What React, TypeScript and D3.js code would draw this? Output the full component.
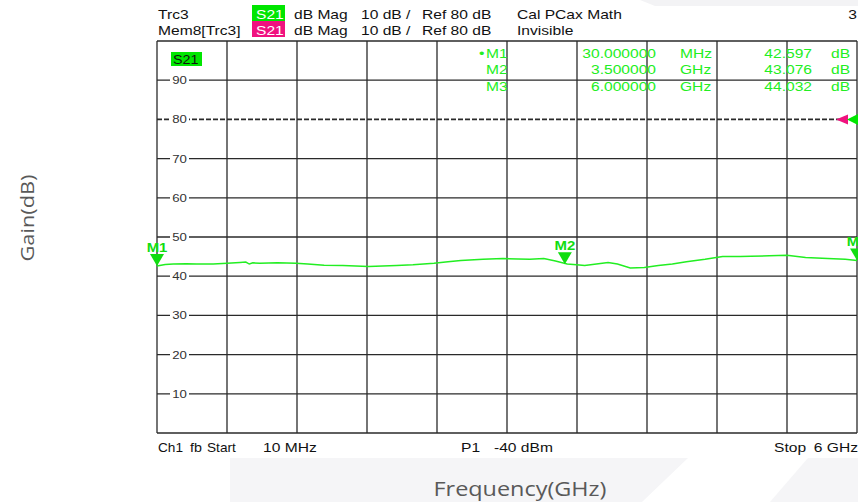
import React from 'react';
import * as d3 from 'd3';

// trace S21 (GHz, dB)
const freqGHz = [0.01, 0.08, 0.15, 0.26, 0.35, 0.49, 0.61, 0.72, 0.77, 0.8, 0.83, 0.89, 1.04, 1.2, 1.3, 1.44, 1.6, 1.82, 2.06, 2.2, 2.38, 2.5, 2.61, 2.8, 2.97, 3.1, 3.2, 3.32, 3.42, 3.52, 3.6, 3.67, 3.77, 3.87, 3.95, 4.06, 4.18, 4.3, 4.42, 4.54, 4.7, 4.85, 5.0, 5.09, 5.25, 5.4, 5.56, 5.75, 5.9, 6.0];
const gainDb = [42.6, 43.0, 43.1, 43.2, 43.1, 43.1, 43.3, 43.5, 43.6, 43.1, 43.4, 43.3, 43.4, 43.3, 43.1, 42.8, 42.7, 42.5, 42.7, 42.9, 43.3, 43.7, 44.0, 44.3, 44.5, 44.4, 44.3, 44.5, 43.9, 43.1, 42.9, 42.7, 43.1, 43.5, 43.1, 42.1, 42.2, 42.7, 43.1, 43.7, 44.3, 45.0, 45.0, 45.1, 45.2, 45.35, 44.8, 44.5, 44.3, 44.03];

const yTicks = [10, 20, 30, 40, 50, 60, 70, 80, 90];
const xDivs = [0, 1, 2, 3, 4, 5, 6, 7, 8, 9, 10];

const markerNames = ['M1', 'M2', 'M3'];
const markerFreq = [0.03, 3.5, 6.0];
const markerFreqText = ['30.000000', '3.500000', '6.000000'];
const markerUnit = ['MHz', 'GHz', 'GHz'];
const markerValue = [42.597, 43.076, 44.032];

const GREEN = '#22ee22';
const FONT = 'Liberation Sans, Arial, sans-serif';

function T(props: any) {
  const { x, y, sx = 1.2, anchor = 'start', size = 13, fill = '#111', weight = 'normal', children } = props;
  return (
    <text
      transform={`translate(${x},${y}) scale(${sx},1)`}
      textAnchor={anchor}
      fontSize={size}
      fontFamily={FONT}
      fill={fill}
      fontWeight={weight}
    >
      {children}
    </text>
  );
}

export default function App() {
  const width = 858, height = 502;
  const left = 157, right = 857, top = 41, bottom = 433;

  const x = d3.scaleLinear().domain([0.01, 6]).range([left, right]);
  const y = d3.scaleLinear().domain([0, 100]).range([bottom, top]);
  const xGrid = d3.scaleLinear().domain([0, 10]).range([left, right]);

  const pts = freqGHz.map((f, i) => [f, gainDb[i]] as [number, number]);
  const line = d3.line<[number, number]>().x(d => x(d[0])).y(d => y(d[1]))(pts) || '';

  const tri = (cx: number, tipY: number) =>
    `M${cx - 7},${tipY - 12}L${cx + 7},${tipY - 12}L${cx},${tipY}Z`;

  return (
    <svg width={width} height={height} style={{ position: 'absolute', left: 0, top: 0, background: '#fff' }}>
      {/* faint background watermark */}
      <polygon points="640,0 858,0 858,6 655,6" fill="#f3f3f5" />
      <polygon points="230,458 688,458 642,502 230,502" fill="#f5f5f7" />
      <polygon points="808,458 858,458 858,502 770,502" fill="#f5f5f7" />

      {/* header */}
      <T x={158} y={19}>Trc3</T>
      <rect x={252} y={5} width={33} height={16} fill="#00e600" />
      <T x={256} y={19} fill="#fff">S21</T>
      <T x={294} y={19}>dB Mag</T>
      <T x={361} y={19}>10 dB /</T>
      <T x={422} y={19}>Ref 80 dB</T>
      <T x={517} y={19}>Cal PCax Math</T>
      <T x={857} y={19} anchor="end">3</T>

      <T x={158} y={35}>Mem8[Trc3]</T>
      <rect x={252} y={21} width={33} height={16} fill="#f0127f" />
      <T x={256} y={35} fill="#fff">S21</T>
      <T x={294} y={35}>dB Mag</T>
      <T x={361} y={35}>10 dB /</T>
      <T x={422} y={35}>Ref 80 dB</T>
      <T x={517} y={35}>Invisible</T>

      {/* grid */}
      <rect x={left} y={top} width={right - left} height={bottom - top} fill="#fff" />
      {xDivs.map(d => (
        <line key={'v' + d} x1={xGrid(d)} x2={xGrid(d)} y1={top} y2={bottom} stroke="#2a2a2a" strokeWidth={1.3} />
      ))}
      <line x1={left} x2={right} y1={top} y2={top} stroke="#2a2a2a" strokeWidth={1.3} />
      <line x1={left} x2={right} y1={bottom} y2={bottom} stroke="#2a2a2a" strokeWidth={1.3} />
      {yTicks.map(t => (
        <g key={'h' + t}>
          <line
            x1={left}
            x2={right}
            y1={y(t)}
            y2={y(t)}
            stroke="#2a2a2a"
            strokeWidth={t === 80 ? 1.6 : 1.3}
            strokeDasharray={t === 80 ? '5,2' : undefined}
          />
          <rect x={170} y={y(t) - 6} width={19} height={12} fill="#fff" />
          <T x={179.5} y={y(t) + 4} anchor="middle" size={11} sx={1.2} fill="#333">{t}</T>
        </g>
      ))}

      {/* trace label */}
      <rect x={171} y={52} width={31} height={14} fill="#00e600" />
      <T x={173} y={64} size={12.5} sx={1.15}>S21</T>

      {/* marker table */}
      {markerNames.map((m, i) => {
        const by = 58 + i * 16.3;
        return (
          <g key={m}>
            {i === 0 && <T x={479} y={by} fill={GREEN}>•</T>}
            <T x={486} y={by} fill={GREEN}>{m}</T>
            <T x={656} y={by} anchor="end" fill={GREEN}>{markerFreqText[i]}</T>
            <T x={680} y={by} fill={GREEN}>{markerUnit[i]}</T>
            <T x={812} y={by} anchor="end" fill={GREEN}>{markerValue[i].toFixed(3)}</T>
            <T x={831} y={by} fill={GREEN}>dB</T>
          </g>
        );
      })}

      {/* trace */}
      <path d={line} fill="none" stroke={GREEN} strokeWidth={1.5} />

      {/* markers */}
      {markerNames.map((m, i) => {
        const cx = i === 0 ? left : x(markerFreq[i]);
        const tipY = y(markerValue[i]);
        return (
          <g key={'mk' + m}>
            <path d={tri(cx, tipY)} fill="#11dd11" />
            <T x={cx} y={tipY - 14} anchor="middle" fill="#11dd11" weight="bold" size={13} sx={1.15}>{m}</T>
          </g>
        );
      })}

      {/* reference position arrows at 80 dB */}
      <path d={`M${836},${y(80)}L${848},${y(80) - 5}L${848},${y(80) + 5}Z`} fill="#f0127f" />
      <path d={`M${847},${y(80)}L${859},${y(80) - 6}L${859},${y(80) + 6}Z`} fill="#00e600" />

      {/* footer */}
      <T x={158} y={452} sx={1.05}>Ch1</T>
      <T x={190} y={452} sx={1.1}>fb</T>
      <T x={207} y={452} sx={1.05}>Start</T>
      <T x={263} y={452}>10 MHz</T>
      <T x={461} y={452}>P1</T>
      <T x={494} y={452}>-40 dBm</T>
      <T x={774} y={452}>Stop</T>
      <T x={858} y={452} anchor="end">6 GHz</T>

      {/* axis titles */}
      <text
        transform="translate(34,218) rotate(-90)"
        textAnchor="middle"
        fontFamily="Open Sans, sans-serif"
        fontSize={19}
        fill="#595959"
        textLength={87}
        lengthAdjust="spacingAndGlyphs"
      >
        Gain(dB)
      </text>
      <text
        x={520}
        y={496}
        textAnchor="middle"
        fontFamily="Open Sans, sans-serif"
        fontSize={20}
        fill="#595959"
        textLength={173}
        lengthAdjust="spacingAndGlyphs"
      >
        Frequency(GHz)
      </text>
    </svg>
  );
}
